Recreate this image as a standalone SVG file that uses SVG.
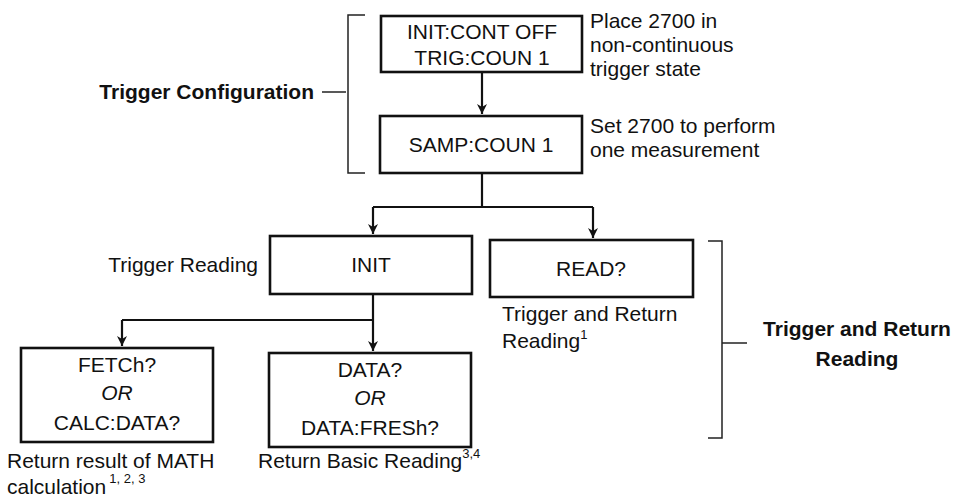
<svg xmlns="http://www.w3.org/2000/svg" width="959" height="500" viewBox="0 0 959 500">
<style>
.box{fill:#fff;stroke:#111;stroke-width:2.6}
.t{font-family:"Liberation Sans",Arial,sans-serif;font-size:21px;fill:#111}
.c{text-anchor:middle}
.e{text-anchor:end}
.b{font-weight:bold}
.i{font-style:italic}
.ln{fill:none;stroke:#111;stroke-width:2.2}
.br{fill:none;stroke:#222;stroke-width:1.5}
.sup{font-size:13px}
</style>
<defs>
<marker id="ah" markerUnits="userSpaceOnUse" markerWidth="12" markerHeight="14" viewBox="0 0 10 14" refX="10" refY="5" orient="auto">
<path d="M0,0 L10,5 L0,10 L3,5 z" fill="#111"/>
</marker>
</defs>
<rect width="959" height="500" fill="#fff"/>
<g id="connectors">
<path class="ln" d="M482,72 V114" marker-end="url(#ah)"/>
<path class="ln" d="M482,173 V207 M373,207 H593"/>
<path class="ln" d="M373,207 V234" marker-end="url(#ah)"/>
<path class="ln" d="M593,207 V238" marker-end="url(#ah)"/>
<path class="ln" d="M373,294 V351" marker-end="url(#ah)"/>
<path class="ln" d="M122,320 H373"/>
<path class="ln" d="M122,320 V346" marker-end="url(#ah)"/>
</g>
<g id="bracket-config">
<path class="br" d="M365,15 H348 V173 H365"/>
<path class="br" d="M322,92 H346"/>
<text class="t b e" x="314" y="99">Trigger Configuration</text>
</g>
<g id="bracket-return">
<path class="br" d="M708,241 H722 V438 H708"/>
<path class="br" d="M722,343 H747"/>
<text class="t b c" x="857" y="336">Trigger and Return</text>
<text class="t b c" x="857" y="366">Reading</text>
</g>
<g id="node-init-cont">
<rect class="box" x="381" y="16" width="201" height="56"/>
<text class="t c" x="482" y="39">INIT:CONT OFF</text>
<text class="t c" x="482" y="65">TRIG:COUN 1</text>
</g>
<g id="note-place">
<text class="t" x="590" y="28">Place 2700 in</text>
<text class="t" x="590" y="52">non-continuous</text>
<text class="t" x="590" y="76">trigger state</text>
</g>
<g id="node-samp">
<rect class="box" x="380" y="116" width="202" height="57"/>
<text class="t c" x="481" y="152">SAMP:COUN 1</text>
</g>
<g id="note-set">
<text class="t" x="590" y="133">Set 2700 to perform</text>
<text class="t" x="590" y="157">one measurement</text>
</g>
<g id="node-init">
<rect class="box" x="270" y="236" width="202" height="58"/>
<text class="t c" x="371" y="272">INIT</text>
<text class="t e" x="258" y="272">Trigger Reading</text>
</g>
<g id="node-read">
<rect class="box" x="490" y="240" width="203" height="57"/>
<text class="t c" x="591" y="276">READ?</text>
<text class="t" x="502" y="321">Trigger and Return</text>
<text class="t" x="502" y="348">Reading<tspan class="sup" dy="-9">1</tspan></text>
</g>
<g id="node-fetch">
<rect class="box" x="21" y="348" width="192" height="94"/>
<text class="t c" x="117" y="372">FETCh?</text>
<text class="t c i" x="117" y="400">OR</text>
<text class="t c" x="117" y="430">CALC:DATA?</text>
<text class="t" x="7" y="468">Return result of MATH</text>
<text class="t" x="7" y="494">calculation<tspan class="sup" dx="3" dy="-11">1, 2, 3</tspan></text>
</g>
<g id="node-data">
<rect class="box" x="269" y="353" width="202" height="94"/>
<text class="t c" x="370" y="377">DATA?</text>
<text class="t c i" x="370" y="405">OR</text>
<text class="t c" x="370" y="435">DATA:FRESh?</text>
<text class="t" x="258" y="468">Return Basic Reading<tspan class="sup" dy="-10">3,4</tspan></text>
</g>
</svg>
